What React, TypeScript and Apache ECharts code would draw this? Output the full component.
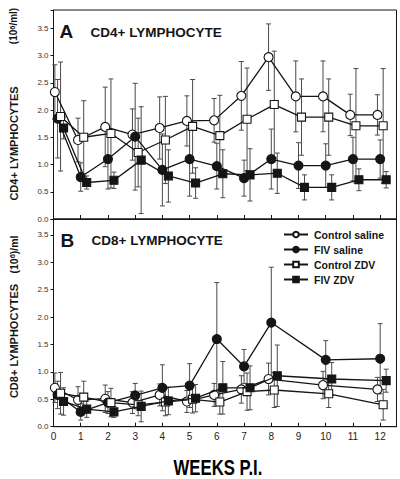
import React, { useEffect, useRef } from 'react';
import * as echarts from 'echarts';

// Panel A: CD4+ lymphocytes (10^6/ml)
const weeksA = [0.15, 1, 2, 3, 4, 5, 6, 7, 8, 9, 10, 11, 12];
const ctrlSalineA = [2.33, 1.45, 1.69, 1.55, 1.67, 1.8, 1.81, 2.26, 2.97, 2.25, 2.25, 1.91, 1.91];
const ctrlSalineSdA = [0.5, 0.4, 0.73, 0.47, 0.57, 0.46, 0.4, 0.63, 0.61, 0.65, 0.65, 0.38, 0.37];
const fivSalineA = [1.84, 0.77, 1.1, 1.51, 0.9, 1.1, 0.97, 0.75, 1.1, 0.98, 0.98, 1.1, 1.1];
const fivSalineSdA = [0.72, 0.26, 0.55, 0.98, 0.66, 0.68, 0.42, 0.33, 0.55, 0.42, 0.4, 0.4, 0.35];
const ctrlZdvA = [1.88, 1.5, 1.57, 1.22, 1.45, 1.7, 1.53, 1.83, 2.1, 1.87, 1.87, 1.71, 1.71];
const ctrlZdvSdA = [1.0, 0.67, 1.0, 0.63, 0.8, 0.86, 0.74, 0.94, 0.98, 0.7, 0.7, 1.05, 1.05];
const fivZdvA = [1.67, 0.67, 0.71, 1.08, 0.79, 0.66, 0.83, 0.81, 0.84, 0.58, 0.58, 0.72, 0.72];
const fivZdvSdA = [0.2, 0.12, 0.15, 0.98, 0.48, 0.28, 0.44, 0.48, 0.37, 0.23, 0.23, 0.2, 0.15];

// Panel B: CD8+ lymphocytes (10^6/ml)
const weeksB = [0.15, 1, 2, 3, 4, 5, 6, 7, 8, 10, 12];
const ctrlSalineB = [0.71, 0.49, 0.51, 0.44, 0.58, 0.46, 0.58, 0.68, 0.87, 0.76, 0.68];
const ctrlSalineSdB = [0.27, 0.24, 0.25, 0.2, 0.2, 0.2, 0.21, 0.25, 0.29, 0.25, 0.22];
const fivSalineB = [0.58, 0.27, 0.44, 0.57, 0.71, 0.75, 1.6, 1.1, 1.9, 1.22, 1.24];
const fivSalineSdB = [0.25, 0.15, 0.2, 0.22, 0.42, 0.4, 1.03, 0.31, 1.01, 0.35, 0.64];
const ctrlZdvB = [0.61, 0.54, 0.44, 0.4, 0.45, 0.5, 0.45, 0.64, 0.67, 0.6, 0.4];
const ctrlZdvSdB = [0.38, 0.29, 0.26, 0.2, 0.25, 0.25, 0.22, 0.34, 0.32, 0.25, 0.28];
const fivZdvB = [0.46, 0.32, 0.27, 0.37, 0.47, 0.52, 0.71, 0.71, 0.93, 0.87, 0.84];
const fivZdvSdB = [0.25, 0.15, 0.1, 0.28, 0.25, 0.25, 0.48, 0.4, 0.56, 0.3, 0.21];

const seriesNames = ['Control saline', 'FIV saline', 'Control ZDV', 'FIV ZDV'];
const yTickLabels = ['0.0', '0.5', '1.0', '1.5', '2.0', '2.5', '3.0', '3.5'];
const xTickLabels = ['0', '1', '2', '3', '4', '5', '6', '7', '8', '9', '10', '11', '12'];

const FONT = 'Arial, "Liberation Sans", Helvetica, sans-serif';
const INK = '#151515';

// x-jitter per group so that the groups don't hide each other (styling only)
const OFFSETS = [-0.1, 0, 0.11, 0.22];
const SYMBOLS = ['circle', 'circle', 'rect', 'rect'];
const FILLED = [false, true, false, true];

function errorSeries(idx: number, gi: number, weeks: number[], means: number[], sds: number[]) {
  return {
    type: 'custom',
    name: 'err-' + gi + '-' + idx,
    xAxisIndex: gi,
    yAxisIndex: gi,
    silent: true,
    z: 1,
    clip: false,
    data: weeks.map((w, i) => [w + OFFSETS[idx], means[i], sds[i]]),
    encode: { x: 0, y: 1 },
    renderItem: (params: any, api: any) => {
      const x = api.value(0);
      const m = api.value(1);
      const s = api.value(2);
      const top = api.coord([x, m + s]);
      const bot = api.coord([x, Math.max(m - s, 0)]);
      const hw = 2.5;
      const style = { stroke: '#4a4a4a', lineWidth: 1, fill: null };
      return {
        type: 'group',
        children: [
          { type: 'line', shape: { x1: top[0], y1: top[1], x2: bot[0], y2: bot[1] }, style },
          { type: 'line', shape: { x1: top[0] - hw, y1: top[1], x2: top[0] + hw, y2: top[1] }, style },
          { type: 'line', shape: { x1: bot[0] - hw, y1: bot[1], x2: bot[0] + hw, y2: bot[1] }, style },
        ],
      };
    },
  };
}

function lineSeries(idx: number, gi: number, weeks: number[], means: number[]) {
  return {
    type: 'line',
    name: seriesNames[idx],
    xAxisIndex: gi,
    yAxisIndex: gi,
    data: weeks.map((w, i) => [w + OFFSETS[idx], means[i]]),
    symbol: SYMBOLS[idx],
    symbolSize: SYMBOLS[idx] === 'circle' ? 9 : 8,
    showSymbol: true,
    showAllSymbol: true,
    z: 3 + idx,
    lineStyle: { color: INK, width: 1.3 },
    itemStyle: { color: FILLED[idx] ? INK : '#ffffff', borderColor: INK, borderWidth: 1.1, opacity: 1 },
    emphasis: { disabled: true },
  };
}

function xAxis(gi: number, labels: boolean) {
  return {
    type: 'value',
    gridIndex: gi,
    min: 0,
    max: 12.6,
    interval: 1,
    axisLine: { show: true, onZero: false, lineStyle: { color: INK, width: 1 } },
    axisTick: { show: true, inside: true, length: 4, lineStyle: { color: INK } },
    axisLabel: {
      show: labels,
      margin: 5,
      fontSize: 10,
      fontFamily: FONT,
      color: '#222',
      formatter: (v: number) => (Number.isInteger(v) && v <= 12 ? xTickLabels[v] : ''),
    },
    splitLine: { show: false },
  };
}

function yAxis(gi: number, max: number) {
  return {
    type: 'value',
    gridIndex: gi,
    min: 0,
    max,
    interval: 0.5,
    axisLine: { show: true, onZero: false, lineStyle: { color: INK, width: 1 } },
    axisTick: { show: true, inside: false, length: 3, lineStyle: { color: INK } },
    axisLabel: {
      margin: 5,
      fontSize: 8,
      fontFamily: FONT,
      color: '#333',
      formatter: (v: number) => {
        const k = Math.round(v * 2);
        return Math.abs(v * 2 - k) < 1e-6 && k < yTickLabels.length ? yTickLabels[k] : '';
      },
    },
    splitLine: { show: false },
  };
}

export default function App() {
  const ref = useRef<HTMLDivElement>(null);
  useEffect(() => {
    if (!ref.current) return;
    const chart = echarts.init(ref.current, undefined, { renderer: 'svg' });
    const groupsA = [
      [ctrlSalineA, ctrlSalineSdA],
      [fivSalineA, fivSalineSdA],
      [ctrlZdvA, ctrlZdvSdA],
      [fivZdvA, fivZdvSdA],
    ];
    const groupsB = [
      [ctrlSalineB, ctrlSalineSdB],
      [fivSalineB, fivSalineSdB],
      [ctrlZdvB, ctrlZdvSdB],
      [fivZdvB, fivZdvSdB],
    ];
    const series: any[] = [];
    groupsA.forEach((g, i) => series.push(errorSeries(i, 0, weeksA, g[0], g[1])));
    groupsB.forEach((g, i) => series.push(errorSeries(i, 1, weeksB, g[0], g[1])));
    groupsA.forEach((g, i) => series.push(lineSeries(i, 0, weeksA, g[0])));
    groupsB.forEach((g, i) => series.push(lineSeries(i, 1, weeksB, g[0])));

    const boldTitle = (text: string, x: number, y: number, size: number) => ({
      type: 'text',
      x,
      y,
      silent: true,
      style: {
        text,
        fontSize: size,
        fontWeight: 'bold',
        fontFamily: FONT,
        fill: INK,
        align: 'left',
        verticalAlign: 'middle',
      },
    });
    const vText = (text: string, x: number, y: number, size: number) => ({
      type: 'text',
      x,
      y,
      rotation: Math.PI / 2,
      silent: true,
      style: {
        text,
        fontSize: size,
        fontWeight: 'bold',
        fontFamily: FONT,
        fill: INK,
        align: 'center',
        verticalAlign: 'middle',
        rich: {
          sup: { fontSize: 7.5, fontWeight: 'bold', fontFamily: FONT, fill: INK, verticalAlign: 'top', padding: [0, 0, 3, 0] },
        },
      },
    });

    chart.setOption({
      animation: false,
      backgroundColor: '#ffffff',
      grid: [
        { left: 53.5, top: 10, width: 343, height: 209, show: true, borderColor: INK, borderWidth: 1 },
        { left: 53.5, top: 219, width: 343, height: 207.7, show: true, borderColor: INK, borderWidth: 1 },
      ],
      xAxis: [xAxis(0, false), xAxis(1, true)],
      yAxis: [yAxis(0, 3.835), yAxis(1, 3.79)],
      legend: {
        data: seriesNames,
        orient: 'vertical',
        left: 278,
        top: 224,
        itemWidth: 24,
        itemHeight: 7,
        itemGap: 4,
        selectedMode: false,
        textStyle: { fontSize: 10.5, fontWeight: 'bold', fontFamily: FONT, color: INK, padding: [0, 0, 0, 1] },
      },
      graphic: [
        boldTitle('A', 59.5, 31.5, 19),
        boldTitle('CD4+ LYMPHOCYTE', 90.5, 32, 13.5),
        boldTitle('B', 60.5, 240, 19),
        boldTitle('CD8+ LYMPHOCYTE', 91.5, 240, 13.5),
        vText('CD4+ LYMPHOCYTES', 13.5, 143.5, 11),
        vText('(10{sup|6}/ml)', 13.5, 26, 10),
        vText('CD8+ LYMPHOCYTES', 13.5, 341, 11),
        vText('(10{sup|6})/ml', 13.5, 254.5, 10.5),
        {
          type: 'text',
          x: 218,
          y: 467.5,
          scaleX: 0.76,
          silent: true,
          style: {
            text: 'WEEKS P.I.',
            fontSize: 22,
            fontWeight: 'bold',
            fontFamily: FONT,
            fill: '#000',
            align: 'center',
            verticalAlign: 'middle',
          },
        },
      ],
      series,
    });
    return () => chart.dispose();
  }, []);
  return <div ref={ref} style={{ width: 400, height: 479, position: 'absolute', left: 0, top: 0 }} />;
}
